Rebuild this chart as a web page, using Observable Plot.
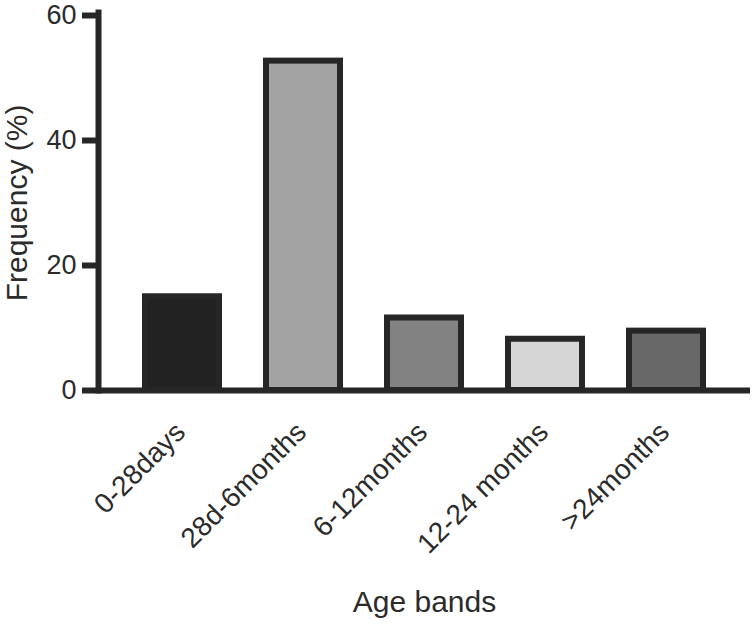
<!DOCTYPE html>
<html>
<head>
<meta charset="utf-8">
<script src="https://cdn.jsdelivr.net/npm/d3@7"></script>
<script src="https://cdn.jsdelivr.net/npm/@observablehq/plot@0.6"></script>
<style>
  html, body { margin: 0; padding: 0; background: #fff; }
</style>
</head>
<body>
<div id="chart"></div>
<script>
const categories = ["0-28days", "28d-6months", "6-12months", "12-24 months", ">24months"];
const values = [15.0, 52.7, 11.6, 8.2, 9.5];
const fills = ["#222222", "#a3a3a3", "#828282", "#d6d6d6", "#686868"];
const yTicks = [0, 20, 40, 60];
const xTitle = "Age bands";
const yTitle = "Frequency (%)";

const data = categories.map((c, i) => ({category: c, value: values[i]}));
const ink = "#262626";
const textInk = "#2b2b2b";

const chart = Plot.plot({
  width: 755,
  height: 633,
  marginLeft: 98,
  marginRight: 5,
  marginTop: 15,
  marginBottom: 243,
  style: {fontFamily: "'Liberation Sans', Arial, sans-serif", color: textInk, background: "#fff"},
  x: {domain: categories, paddingInner: 0.39, paddingOuter: 0.37},
  y: {domain: [0, 60]},
  color: {domain: categories, range: fills},
  marks: [
    Plot.barY(data, {x: "category", y: "value", fill: "category", stroke: ink, strokeWidth: 6}),
    Plot.ruleY([0], {stroke: ink, strokeWidth: 6}),
    Plot.frame({anchor: "left", stroke: ink, strokeWidth: 6, insetTop: -3}),
    Plot.axisY({ticks: yTicks, tickSize: 16, tickPadding: 6, strokeWidth: 6, stroke: ink, fontSize: 27, fill: textInk, label: null}),
    Plot.axisX({tickRotate: -45, tickSize: 0, tickPadding: 37, dx: -2, fontSize: 28, fill: textInk, label: null}),
    Plot.text([yTitle], {frameAnchor: "left", textAnchor: "middle", rotate: -90, dx: -93, lineAnchor: "top", fontSize: 30, fill: textInk}),
    Plot.text([xTitle], {frameAnchor: "bottom", dy: 221, fontSize: 30, fill: textInk})
  ]
});
document.getElementById("chart").appendChild(chart);
</script>
</body>
</html>
